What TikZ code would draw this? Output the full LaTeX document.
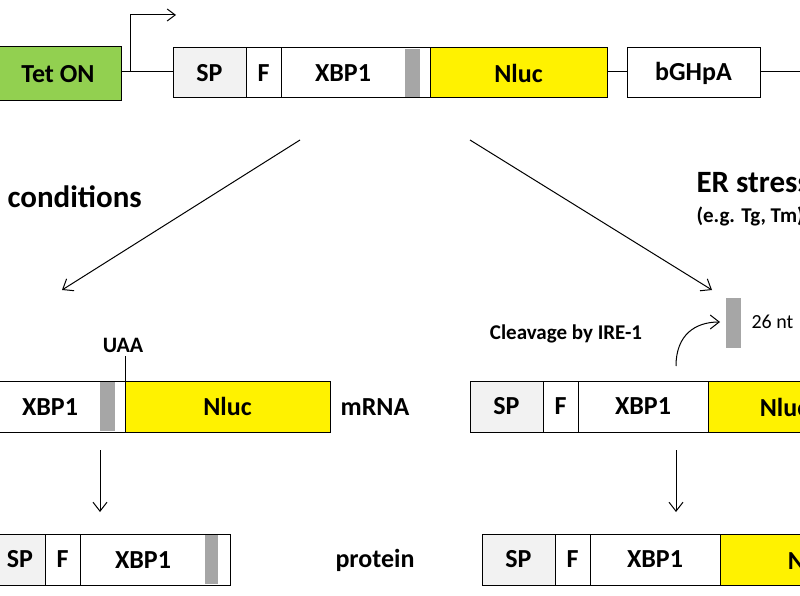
\documentclass[tikz,border=0pt]{standalone}
\usepackage{fontspec}
\setmainfont{Carlito}
\usetikzlibrary{arrows.meta}
\begin{document}
\begin{tikzpicture}[x=1pt,y=-1pt,
  bx/.style={draw,line width=1pt,fill=white},
  gr/.style={bx,fill=gray!10},
  yl/.style={bx,fill=yellow},
  bar/.style={fill=black!35},
  lab/.style={font=\bfseries\fontsize{26}{30}\selectfont},
  arr/.style={-{Straight Barb[length=9pt,width=14pt]},line width=1pt},
  ln/.style={line width=1pt}]
\useasboundingbox (0,0) rectangle (800,596);
\clip (0,0) rectangle (800,596);
% top row
\draw[ln] (121,72) -- (173,72);
\draw[ln] (607,72) -- (627,72);
\draw[ln] (760,72) -- (805,72);
\draw[bx,fill={rgb,255:red,146;green,208;blue,80}] (-5,47) rectangle (121,101) node[midway,lab] (teton) {Tet ON};
\draw[ln,-{Straight Barb[length=8pt,width=12pt]}] (130,72) -- (130,15) -- (176,15);
\draw[gr] (173,48) rectangle (246,98) node[midway,lab] (sp1) {SP};
\draw[bx] (246,48) rectangle (281,98) node[midway,lab] (f1) {F};
\draw[bx] (281,48) rectangle (430,98);
\node[lab] (x1) at (343,73) {XBP1};
\fill[bar] (405,49) rectangle (420,97);
\draw[yl] (430,48) rectangle (607,98) node[midway,lab] (n1) {Nluc};
\draw[bx] (627,48) rectangle (760,98) node[midway,lab] (bg) {bGHpA};
% split arrows
\coordinate (a1) at (300,140); \coordinate (a2) at (62,290);
\coordinate (b1) at (470,140); \coordinate (b2) at (712,290);
\draw[arr] (a1) -- (a2);
\draw[arr] (b1) -- (b2);
\node[font=\bfseries\fontsize{31}{34}\selectfont,anchor=west] (cond) at (4,197) {conditions};
\node[font=\bfseries\fontsize{31}{34}\selectfont,anchor=west] (er) at (693,183) {ER stress};
\node[font=\bfseries\fontsize{21}{24}\selectfont,anchor=west] (eg) at (693,216) {(e.g. Tg, Tm)};
% left mRNA
\draw[bx] (-5,381) rectangle (125,432);
\node[lab] (x2) at (50,407) {XBP1};
\fill[bar] (100,382) rectangle (115,431);
\draw[yl] (125,381) rectangle (330,432) node[midway,lab] (n2) {Nluc};
\draw[ln] (125,356) -- (125,381);
\node[font=\bfseries\fontsize{22}{26}\selectfont] (uaa) at (123,345) {UAA};
\node[lab] (mrna) at (375,407) {mRNA};
\coordinate (c1) at (100,450); \coordinate (c2) at (100,512);
\draw[arr] (c1) -- (c2);
% left protein
\draw[gr] (-5,534) rectangle (45,585) node[midway,lab] (sp3) {SP};
\draw[bx] (45,534) rectangle (80,585) node[midway,lab] (f3) {F};
\draw[bx] (80,534) rectangle (230,585);
\node[lab] (x3) at (143,560) {XBP1};
\fill[bar] (205,535) rectangle (218,584);
\node[lab] (prot) at (375,560) {protein};
% right mRNA
\draw[gr] (470,381) rectangle (543,432) node[midway,lab] (sp4) {SP};
\draw[bx] (543,381) rectangle (578,432) node[midway,lab] (f4) {F};
\draw[bx] (578,381) rectangle (708,432) node[midway,lab] (x4) {XBP1};
\draw[yl] (708,381) rectangle (815,432);
\node[lab] (n4) at (784,407) {Nluc};
\node[font=\bfseries\fontsize{21}{24}\selectfont] (cl) at (566,334) {Cleavage by IRE-1};
\fill[bar] (726,298) rectangle (741,348);
\coordinate (d0) at (676,366); \coordinate (d1) at (720,322);
\draw[arr] (d0) .. controls (676,335) and (695,322) .. (d1);
\node[font=\fontsize{20}{23}\selectfont,anchor=west] (nt) at (748,322) {26 nt};
\coordinate (e1) at (676,450); \coordinate (e2) at (676,512);
\draw[arr] (e1) -- (e2);
% right protein
\draw[gr] (482,534) rectangle (555,585) node[midway,lab] (sp5) {SP};
\draw[bx] (555,534) rectangle (590,585) node[midway,lab] (f5) {F};
\draw[bx] (590,534) rectangle (720,585) node[midway,lab] (x5) {XBP1};
\draw[yl] (720,534) rectangle (815,585);
\node[lab] (n5) at (812,560) {Nluc};
\end{tikzpicture}
\end{document}
